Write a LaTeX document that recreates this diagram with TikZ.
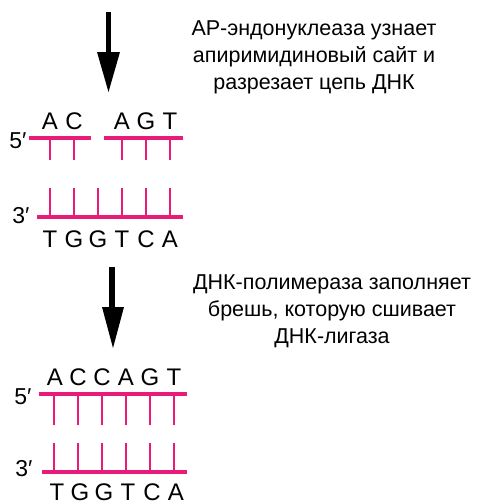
\documentclass[tikz,border=0pt]{standalone}
\usepackage{fontspec}
\setmainfont{Liberation Sans}
\definecolor{dnapink}{RGB}{232,28,120}
\tikzset{
  strand/.style={draw=dnapink, line width=4pt},
  tick/.style={draw=dnapink, line width=1.4pt},
  base/.style={font=\fontsize{24}{24}\selectfont, inner sep=0pt, anchor=center},
  endlbl/.style={font=\fontsize{23}{23}\selectfont, inner sep=0pt, anchor=center},
  note/.style={font=\fontsize{21.5}{27}\selectfont, align=center, inner sep=0pt},
  bigarrow/.style={fill=black}
}
\begin{document}
\begin{tikzpicture}[x=1pt,y=-1pt]
\useasboundingbox (0,0) rectangle (484,504);
% ---- arrow 1
\fill[bigarrow] (106,12) rectangle (111,54);
\fill[bigarrow] (97,52) -- (120,52) -- (108.5,92) -- cycle;
\node[note] (t1) at (314,57) {AP-эндонуклеаза узнает\\апиримидиновый сайт и\\разрезает цепь ДНК};
% ---- top duplex
\node[endlbl] (p5a) at (18,141) {5′};
\node[endlbl] (p3a) at (21,216) {3′};
\draw[strand] (29,138) -- (91,138);
\draw[strand] (104,138) -- (183,138);
\draw[strand] (37,217) -- (183,217);
\foreach \x in {50,74,122,146,170} \draw[tick] (\x,138) -- (\x,160);
\foreach \x in {50,74,98,122,146,170} \draw[tick] (\x,188) -- (\x,217);
\foreach \x/\l in {50/A,74/C,122/A,146/G,170/T} \node[base] at (\x,121) {\l};
\foreach \x/\l [count=\i] in {50/T,74/G,98/G,122/T,146/C,170/A} \node[base] (b\i) at (\x,239) {\l};
% ---- arrow 2
\fill[bigarrow] (109,267) rectangle (115,309);
\fill[bigarrow] (102,307) -- (124,307) -- (113,348) -- cycle;
\node[note] (t2) at (332,311) {ДНК-полимераза заполняет\\брешь, которую сшивает\\ДНК-лигаза};
% ---- bottom duplex
\node[endlbl] (p5b) at (23,397) {5′};
\node[endlbl] (p3b) at (24,469) {3′};
\draw[strand] (39,394) -- (187,394);
\draw[strand] (42,472) -- (187,472);
\foreach \x in {54,78,102,126,150,174} \draw[tick] (\x,394) -- (\x,425);
\foreach \x in {54,78,102,126,150,174} \draw[tick] (\x,443) -- (\x,472);
\foreach \x/\l in {55/A,78/C,102/C,126/A,150/G,174/T} \node[base] at (\x,377) {\l};
\foreach \x/\l in {57/T,80/G,104/G,128/T,152/C,176/A} \node[base] at (\x,492) {\l};
\end{tikzpicture}
\end{document}
